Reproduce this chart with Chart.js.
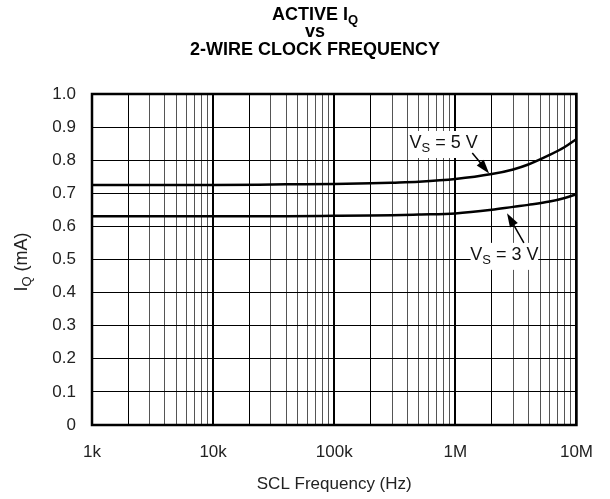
<!DOCTYPE html>
<html>
<head>
<meta charset="utf-8">
<script src="https://cdn.jsdelivr.net/npm/chart.js@4.4.1/dist/chart.umd.min.js"></script>
<style>
  html, body { margin: 0; padding: 0; background: #fff; }
  #wrap { width: 610px; height: 499px; }
</style>
</head>
<body>
<div id="wrap"><canvas id="chartCanva"></canvas></div>
<script>
// data
var freqHz = [1e3, 1e4, 4e4, 1e5, 2e5, 3e5, 5e5, 1e6, 2e6, 3e6, 4e6, 6e6, 8e6, 1e7];
var iq5V   = [0.725, 0.725, 0.727, 0.728, 0.730, 0.732, 0.735, 0.743, 0.758, 0.772, 0.787, 0.816, 0.840, 0.864];
var iq3V   = [0.631, 0.631, 0.631, 0.632, 0.633, 0.634, 0.636, 0.639, 0.650, 0.659, 0.665, 0.675, 0.686, 0.697];

var xDecades = [1e3, 1e4, 1e5, 1e6, 1e7];
var xTickLabels = ['1k', '10k', '100k', '1M', '10M'];
var yTicks = [0, 0.1, 0.2, 0.3, 0.4, 0.5, 0.6, 0.7, 0.8, 0.9, 1.0];

// annotation anchors, in data units: [labelX, labelY, arrowFromX, arrowFromY, arrowToX, arrowToY]
var note5V = { sub: '5', pos: [8.0e5, 0.852, 1.38e6, 0.822, 1.9e6, 0.760] };
var note3V = { sub: '3', pos: [2.54e6, 0.514, 3.68e6, 0.550, 2.67e6, 0.640] };

var FONT = '"Liberation Sans", Arial, sans-serif';

function isDecade(v) {
    var l = Math.log10(v);
    return Math.abs(l - Math.round(l)) < 1e-6;
}

var gridVals = [];
xDecades.forEach(function (d, i) {
    if (i === xDecades.length - 1) { gridVals.push(d); return; }
    for (var m = 1; m <= 9; m++) gridVals.push(d * m);
});

// text with subscript helper
function subText(ctx, main, sub, rest, x, y, size, bold, align) {
    var f = (bold ? 'bold ' : '') + size + 'px ' + FONT;
    var fs = (bold ? 'bold ' : '') + Math.round(size * 0.72) + 'px ' + FONT;
    ctx.font = f; var w1 = ctx.measureText(main).width;
    ctx.font = fs; var w2 = ctx.measureText(sub).width;
    ctx.font = f; var w3 = ctx.measureText(rest).width;
    var total = w1 + w2 + w3;
    var x0 = align === 'left' ? x : x - total / 2;
    ctx.textAlign = 'left';
    ctx.textBaseline = 'middle';
    ctx.font = f; ctx.fillText(main, x0, y);
    ctx.font = fs; ctx.fillText(sub, x0 + w1, y + size * 0.32);
    ctx.font = f; ctx.fillText(rest, x0 + w1 + w2, y);
    return total;
}

function arrow(ctx, x1, y1, x2, y2) {
    var a = Math.atan2(y2 - y1, x2 - x1);
    var len = 14, hw = 4.5;
    ctx.strokeStyle = '#000';
    ctx.lineWidth = 1.5;
    ctx.beginPath();
    ctx.moveTo(x1, y1);
    ctx.lineTo(x2 - Math.cos(a) * len * 0.8, y2 - Math.sin(a) * len * 0.8);
    ctx.stroke();
    ctx.fillStyle = '#000';
    ctx.beginPath();
    ctx.moveTo(x2, y2);
    ctx.lineTo(x2 - Math.cos(a) * len + Math.sin(a) * hw, y2 - Math.sin(a) * len - Math.cos(a) * hw);
    ctx.lineTo(x2 - Math.cos(a) * len - Math.sin(a) * hw, y2 - Math.sin(a) * len + Math.cos(a) * hw);
    ctx.closePath();
    ctx.fill();
}

var decorPlugin = {
    id: 'decor',
    afterDraw: function (chart) {
        var ctx = chart.ctx, area = chart.chartArea;
        var xs = chart.scales.x, ys = chart.scales.y;
        ctx.save();
        // frame
        ctx.strokeStyle = '#000';
        ctx.lineWidth = 2.5;
        ctx.strokeRect(area.left, area.top, area.right - area.left, area.bottom - area.top);

        // title
        ctx.fillStyle = '#000';
        subText(ctx, 'ACTIVE I', 'Q', '', 315, 15, 18, true);
        ctx.font = 'bold 18px ' + FONT; ctx.textAlign = 'center';
        ctx.fillText('vs', 315, 32);
        ctx.fillText('2-WIRE CLOCK FREQUENCY', 315, 50);

        // y axis title, rotated
        ctx.save();
        ctx.translate(22, 262);
        ctx.rotate(-Math.PI / 2);
        ctx.fillStyle = '#222';
        subText(ctx, 'I', 'Q', ' (mA)', 0, 0, 18, false);
        ctx.restore();

        // annotations
        [note5V, note3V].forEach(function (n) {
            var p = n.pos;
            var lx = xs.getPixelForValue(p[0]), ly = ys.getPixelForValue(p[1]);
            ctx.font = '18px ' + FONT;
            var w = ctx.measureText('V = ' + n.sub + ' V').width + 4;
            ctx.fillStyle = '#fff';
            ctx.fillRect(lx - w / 2 - 2, ly - 12, w + 4, 27);
            ctx.fillStyle = '#111';
            subText(ctx, 'V', 'S', ' = ' + n.sub + ' V', lx, ly, 18, false);
            arrow(ctx, xs.getPixelForValue(p[2]), ys.getPixelForValue(p[3]),
                       xs.getPixelForValue(p[4]), ys.getPixelForValue(p[5]));
        });
        ctx.restore();
    }
};

var data = {
    labels: freqHz,
    datasets: [
        { label: 'VS = 5 V', data: freqHz.map(function (f, i) { return { x: f, y: iq5V[i] }; }) },
        { label: 'VS = 3 V', data: freqHz.map(function (f, i) { return { x: f, y: iq3V[i] }; }) }
    ].map(function (d) {
        d.borderColor = '#000';
        d.borderWidth = 2.5;
        d.pointRadius = 0;
        d.fill = false;
        d.cubicInterpolationMode = 'monotone';
        return d;
    })
};

var config = {
    type: 'line',
    data: data,
    options: {
        responsive: false,
        animation: false,
        devicePixelRatio: 1,
        layout: { padding: { left: 0, right: 30, top: 94, bottom: 0 } },
        plugins: {
            legend: { display: false },
            tooltip: { enabled: false },
            title: { display: false }
        },
        scales: {
            x: {
                type: 'logarithmic',
                min: 1e3,
                max: 1e7,
                afterBuildTicks: function (scale) {
                    scale.ticks = gridVals.map(function (v) { return { value: v }; });
                },
                afterFit: function (scale) { scale.height = 74; },
                ticks: {
                    autoSkip: false,
                    maxRotation: 0,
                    padding: 17,
                    color: '#222',
                    font: { family: FONT, size: 17 },
                    callback: function (value) {
                        var i = xDecades.indexOf(value);
                        return i >= 0 ? xTickLabels[i] : '';
                    }
                },
                grid: {
                    drawTicks: false,
                    color: function (c) {
                        var v = c.tick ? c.tick.value : 0;
                        if (isDecade(v)) return '#000';
                        if (Math.abs(v / Math.pow(10, Math.floor(Math.log10(v))) - 2) < 1e-6) return '#000';
                        return '#555';
                    },
                    lineWidth: function (c) {
                        var v = c.tick ? c.tick.value : 0;
                        return isDecade(v) ? 2 : 1;
                    }
                },
                border: { display: false },
                title: {
                    display: true,
                    text: 'SCL Frequency (Hz)',
                    color: '#222',
                    font: { family: FONT, size: 17 },
                    padding: { top: 0, bottom: 4 }
                }
            },
            y: {
                min: 0,
                max: 1,
                afterBuildTicks: function (scale) {
                    scale.ticks = yTicks.map(function (v) { return { value: v }; });
                },
                afterFit: function (scale) { scale.width = 92; },
                ticks: {
                    padding: 16,
                    color: '#222',
                    font: { family: FONT, size: 17 },
                    callback: function (value) {
                        return value === 0 ? '0' : value.toFixed(1);
                    }
                },
                grid: { drawTicks: false, color: '#000', lineWidth: 1 },
                border: { display: false }
            }
        }
    },
    plugins: [decorPlugin]
};

var ctx = document.getElementById('chartCanva');
ctx.width = 610;
ctx.height = 499;
var myChart = new Chart(ctx, config);
</script>
</body>
</html>
